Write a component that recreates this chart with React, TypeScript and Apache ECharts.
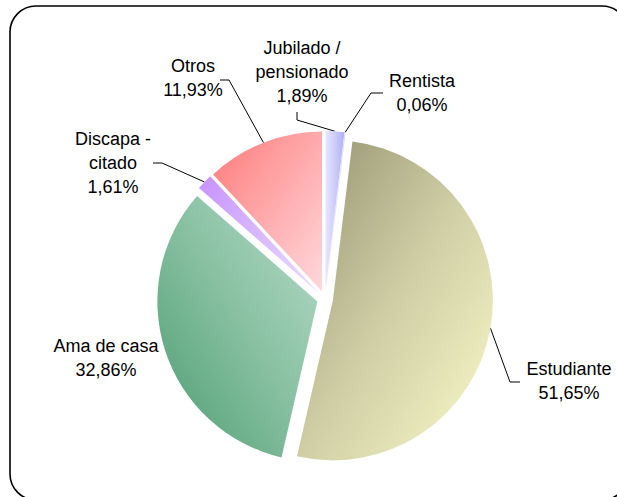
import React, { useEffect, useRef } from "react";
import * as echarts from "echarts";

// Data (clockwise from 12 o'clock)
const categories = [
  "Jubilado /\npensionado",
  "Rentista",
  "Estudiante",
  "Ama de casa",
  "Discapa -\ncitado",
  "Otros",
];
const percentages = [1.89, 0.06, 51.65, 32.86, 1.61, 11.93];

// Styles
const gradientStops: string[][] = [
  ["#e6e6ff", "#b2b2f4"],
  ["#c4c4ff", "#c4c4ff"],
  ["#93916f", "#cfcea5", "#fbfbcb"],
  ["#b8dcc9", "#86bfa0", "#4b9b6f"],
  ["#c692ff", "#ecdfff"],
  ["#ff7a7a", "#ffd9dd"],
];
const gradientDirs: number[][] = [
  [0, 0, 1, 0],
  [0, 0, 1, 0],
  [0, 0, 1, 1],
  [1, 0, 0, 1],
  [0, 0, 1, 1],
  [0, 0, 1, 1],
];

// Label layout (centre of each label block) and leader-line bends
const labelAnchors: number[][] = [
  [302, 72],
  [422, 93],
  [569, 381],
  [106, 358],
  [113, 163],
  [193, 78],
];
const labelBends: (number[][] | null)[] = [
  [[297, 120], [297, 112]],
  [[371, 93], [383, 93]],
  [[510, 382], [520, 382]],
  null,
  [[162, 163], [153, 163]],
  [[229, 80], [220, 80]],
];
const SELECTED_OFFSET = 8;

const fmt = (v: number) => v.toFixed(2).replace(".", ",") + "%";

export default function App() {
  const ref = useRef<HTMLDivElement>(null);

  useEffect(() => {
    if (!ref.current) return;
    const chart = echarts.init(ref.current, undefined, { renderer: "svg" });

    const total = percentages.reduce((s, v) => s + v, 0);
    // translation applied to each selected sector (and its label)
    const shifts: number[][] = [];
    let acc = 0;
    percentages.forEach((v) => {
      const phi = ((acc + v / 2) / total) * Math.PI * 2;
      shifts.push([SELECTED_OFFSET * Math.sin(phi), -SELECTED_OFFSET * Math.cos(phi)]);
      acc += v;
    });

    const data = categories.map((name, i) => {
      const stops = gradientStops[i];
      const d = gradientDirs[i];
      return {
        name,
        value: percentages[i],
        selected: true,
        itemStyle: {
          color: new echarts.graphic.LinearGradient(
            d[0],
            d[1],
            d[2],
            d[3],
            stops.map((c, k) => ({ offset: k / (stops.length - 1), color: c }))
          ),
        },
        labelLine: { show: labelBends[i] !== null },
      };
    });

    chart.setOption({
      animation: false,
      backgroundColor: "#ffffff",
      graphic: [
        {
          type: "rect",
          shape: { x: 10, y: 6, width: 618, height: 494, r: 26 },
          style: { fill: "none", stroke: "#000000", lineWidth: 1.6 },
          silent: true,
        },
      ],
      series: [
        {
          type: "pie",
          center: [325, 299],
          radius: 160,
          startAngle: 90,
          clockwise: true,
          selectedMode: "multiple",
          selectedOffset: SELECTED_OFFSET,
          avoidLabelOverlap: false,
          emphasis: { disabled: true },
          itemStyle: { borderWidth: 0 },
          label: {
            show: true,
            position: "outside",
            color: "#000000",
            fontFamily: "Liberation Sans, Arial, sans-serif",
            fontSize: 18,
            lineHeight: 24,
            formatter: (p: any) => p.name + "\n" + fmt(p.value),
          },
          labelLine: {
            show: true,
            length: 10,
            length2: 10,
            lineStyle: { color: "#000000", width: 1 },
          },
          labelLayout: (params: any) => {
            const i = params.dataIndex;
            const a = labelAnchors[i];
            const s = shifts[i];
            const r = params.labelRect;
            const al = params.align;
            const ax =
              al === "left" ? r.x : al === "right" ? r.x + r.width : r.x + r.width / 2;
            const res: any = {
              align: "center",
              dx: a[0] - s[0] - ax,
              dy: a[1] - s[1] - (r.y + r.height / 2),
            };
            const bends = labelBends[i];
            const pts = params.labelLinePoints;
            if (bends && pts && pts.length) {
              res.labelLinePoints = [
                pts[0],
                [bends[0][0] - s[0], bends[0][1] - s[1]],
                [bends[1][0] - s[0], bends[1][1] - s[1]],
              ];
            }
            return res;
          },
          data,
        },
      ],
    });

    return () => chart.dispose();
  }, []);

  return (
    <div
      ref={ref}
      style={{ position: "fixed", left: 0, top: 0, width: 617, height: 497 }}
    />
  );
}
